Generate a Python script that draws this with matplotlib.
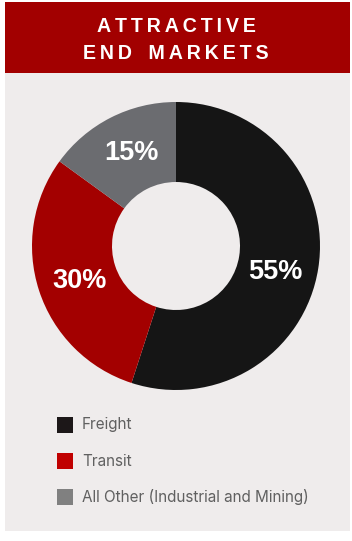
import matplotlib
matplotlib.use("Agg")
import matplotlib.pyplot as plt
import matplotlib.patches as mpatches
from matplotlib import font_manager as fm
import numpy as np

# Data
categories = ["Freight", "Transit", "All Other (Industrial and Mining)"]
shares = [55, 30, 15]
title_lines = ["ATTRACTIVE", "END MARKETS"]

ring_colors = ["#151515", "#a30000", "#6b6c70"]
legend_colors = ["#1c1718", "#c00000", "#808080"]
panel_bg = "#efecec"
header_bg = "#a20000"


def bold_sans(size):
    """Regular-width Liberation Sans Bold if available, else DejaVu Sans Bold."""
    for f in fm.fontManager.ttflist:
        if (f.name == "Liberation Sans" and f.weight in (700, "bold")
                and f.style == "normal" and "Narrow" not in f.fname):
            return fm.FontProperties(fname=f.fname, size=size)
    return fm.FontProperties(family="DejaVu Sans", weight="bold", size=size)


W, H = 352, 541
fig = plt.figure(figsize=(W / 100, H / 100), dpi=100)
fig.patch.set_facecolor("white")

def fx(px):
    return px / W

def fy(py):
    return 1 - py / H

# Panel and header band
fig.patches.append(mpatches.Rectangle((fx(5), fy(531)), fx(345), (531 - 73) / H,
                                      transform=fig.transFigure, facecolor=panel_bg,
                                      edgecolor="none", zorder=0))
fig.patches.append(mpatches.Rectangle((fx(5), fy(73)), fx(345), (73 - 2) / H,
                                      transform=fig.transFigure, facecolor=header_bg,
                                      edgecolor="none", zorder=0))

# Letter-spaced title lines
sp = "\u2009"
for i, line in enumerate(title_lines):
    tracked = sp.join(line).replace(sp + " " + sp, "   ")
    fig.text(fx(176), fy(26 + 27.5 * i), tracked,
             ha="center", va="center", color="white", fontproperties=bold_sans(14.1))

# Donut
cx, cy, half = 176, 246, 150
ax = fig.add_axes([fx(cx - half), fy(cy + half), 2 * half / W, 2 * half / H])
ax.set_zorder(2)
ax.patch.set_visible(False)
r_out, r_in = 144, 64
wedges, _ = ax.pie(shares, colors=ring_colors, startangle=90, counterclock=False,
                   radius=r_out, wedgeprops=dict(width=r_out - r_in, edgecolor="none"))
ax.set_xlim(-half, half)
ax.set_ylim(-half, half)
ax.set_aspect("equal")
ax.axis("off")

# Percentage labels placed along the ring
angle_nudge = [-5.5, 2, -1.5]
r_lab = 103
for w, val, nudge in zip(wedges, shares, angle_nudge):
    mid = np.deg2rad((w.theta1 + w.theta2) / 2 + nudge)
    ax.text(r_lab * np.cos(mid), r_lab * np.sin(mid), f"{val}%", ha="center", va="center",
            color="white", fontproperties=bold_sans(19.5))

# Legend
for i, (name, col) in enumerate(zip(categories, legend_colors)):
    yc = 425 + 36 * i
    fig.patches.append(mpatches.Rectangle((fx(57), fy(yc + 8)), fx(16), 16 / H,
                                          transform=fig.transFigure, facecolor=col,
                                          edgecolor="none"))
    fig.text(fx(82), fy(yc), name, ha="left", va="center", color="#606060",
             fontsize=11, family=["Inter", "DejaVu Sans"])

fig.savefig("out.png", dpi=100, facecolor=fig.get_facecolor())
